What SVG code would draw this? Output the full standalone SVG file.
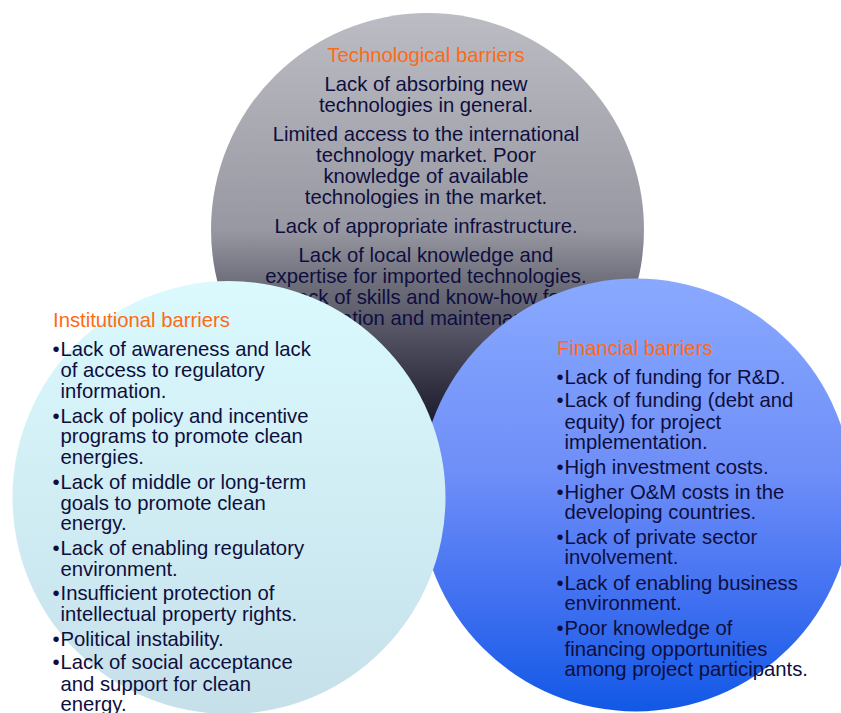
<svg xmlns="http://www.w3.org/2000/svg" width="841" height="713" viewBox="0 0 841 713">
<defs>
<linearGradient id="gGray" x1="0" y1="0" x2="0" y2="1">
<stop offset="0" stop-color="#bcbcc4"/>
<stop offset="0.5" stop-color="#9898a2"/>
<stop offset="0.62" stop-color="#6f6f7c"/>
<stop offset="0.73" stop-color="#555565"/>
<stop offset="0.89" stop-color="#29293a"/>
<stop offset="1" stop-color="#14142a"/>
</linearGradient>
<linearGradient id="gCyan" x1="0" y1="0" x2="0" y2="1">
<stop offset="0" stop-color="#dafafe"/>
<stop offset="1" stop-color="#c6e0ea"/>
</linearGradient>
<linearGradient id="gBlue" x1="0" y1="0" x2="0" y2="1">
<stop offset="0" stop-color="#89a9ff"/>
<stop offset="0.45" stop-color="#6e8ef8"/>
<stop offset="0.75" stop-color="#3f6ff0"/>
<stop offset="1" stop-color="#1158e6"/>
</linearGradient>
</defs>
<style>
text{font-family:"Liberation Sans",Arial,sans-serif;font-size:20.3px;fill:#0e0e3e}
.t{fill:#ff6a13}
.c{text-anchor:middle}
</style>
<g id="node-technological">
<circle cx="427.5" cy="229.5" r="216.5" fill="url(#gGray)"/>
<text class="t c" x="426" y="61.7">Technological barriers</text>
<text class="c" x="426" y="90.7">Lack of absorbing new</text>
<text class="c" x="426" y="111.7">technologies in general.</text>
<text class="c" x="426" y="141">Limited access to the international</text>
<text class="c" x="426" y="162">technology market. Poor</text>
<text class="c" x="426" y="183">knowledge of available</text>
<text class="c" x="426" y="204">technologies in the market.</text>
<text class="c" x="426" y="232.7">Lack of appropriate infrastructure.</text>
<text class="c" x="426" y="261.7">Lack of local knowledge and</text>
<text class="c" x="426" y="282.7">expertise for imported technologies.</text>
<text class="c" x="426" y="303.7">Lack of skills and know-how for</text>
<text class="c" x="426" y="324.7">operation and maintenance.</text>
</g>
<g id="node-financial">
<circle cx="636" cy="495" r="216.5" fill="url(#gBlue)"/>
<text class="t" x="557" y="355">Financial barriers</text>
<text x="556.5" y="384">•</text><text x="564.5" y="384">Lack of funding for R&amp;D.</text>
<text x="556.5" y="407.3">•</text><text x="564.5" y="407.3">Lack of funding (debt and</text>
<text x="564.5" y="429">equity) for project</text>
<text x="564.5" y="449.3">implementation.</text>
<text x="556.5" y="474.3">•</text><text x="564.5" y="474.3">High investment costs.</text>
<text x="556.5" y="498.7">•</text><text x="564.5" y="498.7">Higher O&amp;M costs in the</text>
<text x="564.5" y="519.3">developing countries.</text>
<text x="556.5" y="544.3">•</text><text x="564.5" y="544.3">Lack of private sector</text>
<text x="564.5" y="564.3">involvement.</text>
<text x="556.5" y="590">•</text><text x="564.5" y="590">Lack of enabling business</text>
<text x="564.5" y="610">environment.</text>
<text x="556.5" y="635">•</text><text x="564.5" y="635">Poor knowledge of</text>
<text x="564.5" y="655.7">financing opportunities</text>
<text x="564.5" y="676">among project participants.</text>
</g>
<g id="node-institutional">
<circle cx="229" cy="497.5" r="216.5" fill="url(#gCyan)"/>
<text class="t" x="53" y="326.7">Institutional barriers</text>
<text x="52.5" y="356">•</text><text x="60.5" y="356">Lack of awareness and lack</text>
<text x="60.5" y="377.3">of access to regulatory</text>
<text x="60.5" y="397.7">information.</text>
<text x="52.5" y="422.7">•</text><text x="60.5" y="422.7">Lack of policy and incentive</text>
<text x="60.5" y="443.3">programs to promote clean</text>
<text x="60.5" y="463.7">energies.</text>
<text x="52.5" y="489">•</text><text x="60.5" y="489">Lack of middle or long-term</text>
<text x="60.5" y="510">goals to promote clean</text>
<text x="60.5" y="530">energy.</text>
<text x="52.5" y="555.3">•</text><text x="60.5" y="555.3">Lack of enabling regulatory</text>
<text x="60.5" y="575.7">environment.</text>
<text x="52.5" y="600">•</text><text x="60.5" y="600">Insufficient protection of</text>
<text x="60.5" y="620.7">intellectual property rights.</text>
<text x="52.5" y="645.7">•</text><text x="60.5" y="645.7">Political instability.</text>
<text x="52.5" y="669.3">•</text><text x="60.5" y="669.3">Lack of social acceptance</text>
<text x="60.5" y="690.7">and support for clean</text>
<text x="60.5" y="710.7">energy.</text>
</g>
</svg>
